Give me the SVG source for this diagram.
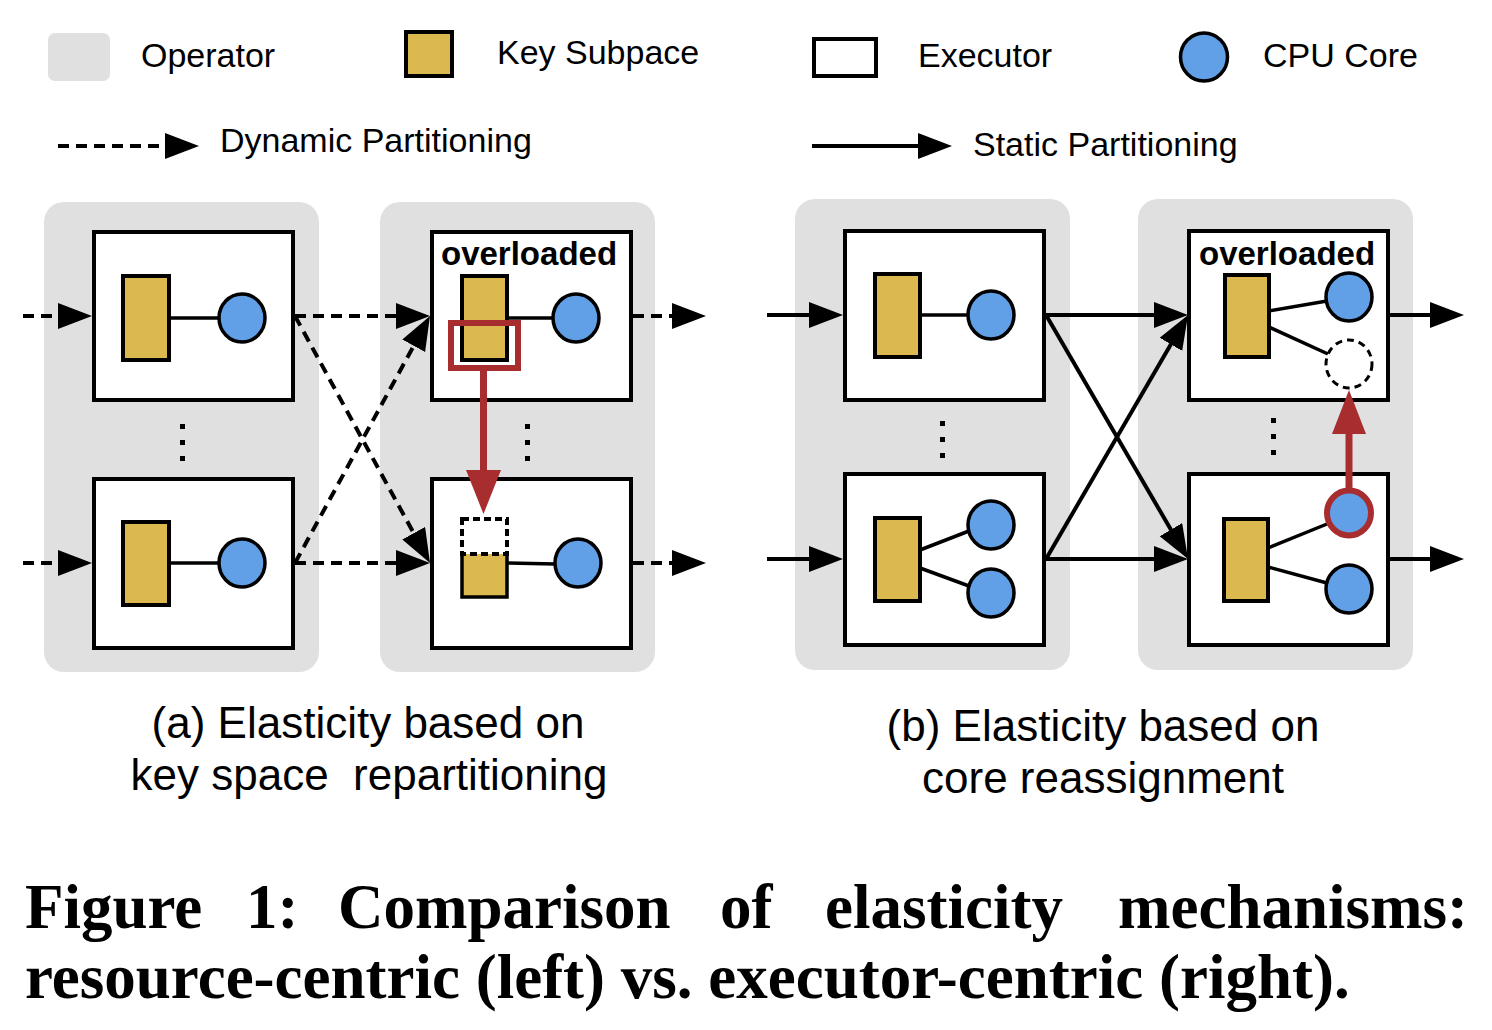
<svg xmlns="http://www.w3.org/2000/svg" width="1492" height="1030" viewBox="0 0 1492 1030">
<style>
.op{fill:#E0E0E0;}
.ex{fill:#FFFFFF;stroke:#000;stroke-width:4;}
.key{fill:#DBB94E;stroke:#000;stroke-width:4;}
.cpu{fill:#619FE6;stroke:#000;stroke-width:3.5;}
.lk{stroke:#000;stroke-width:3.5;fill:none;}
.dyn{stroke:#000;stroke-width:4;stroke-dasharray:11 7;fill:none;marker-end:url(#ah);}
.sta{stroke:#000;stroke-width:4;fill:none;marker-end:url(#ah);}
.lbl{font-family:"Liberation Sans",Arial,sans-serif;font-size:34px;fill:#000;}
.sub{font-family:"Liberation Sans",Arial,sans-serif;font-size:44px;fill:#000;text-anchor:middle;}
.ovl{font-family:"Liberation Sans",Arial,sans-serif;font-size:33px;font-weight:bold;fill:#000;}
.cap{font-family:"Liberation Serif","Times New Roman",serif;font-size:63px;font-weight:bold;fill:#000;}
.red{fill:#A82D2E;}
.dot{fill:#000;}
</style>
<defs>
<marker id="ah" markerUnits="userSpaceOnUse" markerWidth="36" markerHeight="28" refX="24" refY="13" orient="auto">
<path d="M0,0 L34,13 L0,26 z" fill="#000"/>
</marker>
</defs>

<g id="legend">
<rect x="48" y="33" width="62" height="48" rx="7" class="op"/>
<text x="141" y="67" class="lbl">Operator</text>
<rect x="406" y="32" width="46" height="44" class="key"/>
<text x="497" y="64" class="lbl">Key Subpace</text>
<rect x="814" y="39" width="62" height="37" class="ex"/>
<text x="918" y="67" class="lbl">Executor</text>
<ellipse cx="1204" cy="57" rx="23.5" ry="24" class="cpu"/>
<text x="1263" y="67" class="lbl">CPU Core</text>
<line x1="58" y1="146" x2="189" y2="146" class="dyn"/>
<text x="220" y="152" class="lbl">Dynamic Partitioning</text>
<line x1="812" y1="146" x2="942" y2="146" class="sta"/>
<text x="973" y="156" class="lbl">Static Partitioning</text>
</g>

<g id="operator-a1"><rect x="44" y="202" width="275" height="470" rx="20" class="op"/></g>
<g id="operator-a2"><rect x="380" y="202" width="275" height="470" rx="20" class="op"/></g>
<g id="operator-b1"><rect x="795" y="199" width="275" height="471" rx="20" class="op"/></g>
<g id="operator-b2"><rect x="1138" y="199" width="275" height="471" rx="20" class="op"/></g>

<g id="dots">
<rect x="180" y="424" width="5" height="5" class="dot"/>
<rect x="180" y="440" width="5" height="5" class="dot"/>
<rect x="180" y="456" width="5" height="5" class="dot"/>
<rect x="525" y="424" width="5" height="5" class="dot"/>
<rect x="525" y="440" width="5" height="5" class="dot"/>
<rect x="525" y="456" width="5" height="5" class="dot"/>
<rect x="940" y="421" width="5" height="5" class="dot"/>
<rect x="940" y="437" width="5" height="5" class="dot"/>
<rect x="940" y="453" width="5" height="5" class="dot"/>
<rect x="1271" y="418" width="5" height="5" class="dot"/>
<rect x="1271" y="434" width="5" height="5" class="dot"/>
<rect x="1271" y="450" width="5" height="5" class="dot"/>
</g>

<g id="exec-a1">
<rect x="94" y="232" width="199" height="168" class="ex"/>
<line x1="169" y1="318" x2="219" y2="318" class="lk"/>
<rect x="123" y="276" width="46" height="84" class="key"/>
<ellipse cx="242" cy="318" rx="23" ry="24" class="cpu"/>
</g>
<g id="exec-a2">
<rect x="94" y="479" width="199" height="169" class="ex"/>
<line x1="169" y1="563" x2="219" y2="563" class="lk"/>
<rect x="123" y="522" width="46" height="83" class="key"/>
<ellipse cx="242" cy="563" rx="23" ry="24" class="cpu"/>
</g>
<g id="exec-a3">
<rect x="432" y="232" width="199" height="168" class="ex"/>
<text x="441" y="265" class="ovl">overloaded</text>
<line x1="507" y1="318" x2="553" y2="318" class="lk"/>
<rect x="462" y="276" width="45" height="84" class="key"/>
<ellipse cx="576" cy="318" rx="23" ry="24" class="cpu"/>
</g>
<g id="exec-a4">
<rect x="432" y="479" width="199" height="169" class="ex"/>
<line x1="507" y1="563" x2="555" y2="564" class="lk"/>
<rect x="462" y="553" width="45" height="44" fill="#DBB94E"/>
<path d="M462,553 V597 H507 V553" class="lk" stroke-width="4"/>
<rect x="462" y="519" width="45" height="35" fill="#FFFFFF" stroke="#000" stroke-width="4" stroke-dasharray="7 4"/>
<ellipse cx="578" cy="563" rx="23" ry="24" class="cpu"/>
</g>

<g id="exec-b1">
<rect x="845" y="231" width="199" height="169" class="ex"/>
<line x1="920" y1="315" x2="968" y2="315" class="lk"/>
<rect x="875" y="274" width="45" height="83" class="key"/>
<ellipse cx="991" cy="315" rx="23" ry="24" class="cpu"/>
</g>
<g id="exec-b2">
<rect x="845" y="474" width="199" height="171" class="ex"/>
<line x1="920" y1="550" x2="969" y2="531" class="lk"/>
<line x1="920" y1="568" x2="969" y2="586" class="lk"/>
<rect x="875" y="518" width="45" height="83" class="key"/>
<ellipse cx="991" cy="525" rx="23" ry="24" class="cpu"/>
<ellipse cx="991" cy="593" rx="23" ry="24" class="cpu"/>
</g>
<g id="exec-b3">
<rect x="1189" y="231" width="199" height="169" class="ex"/>
<text x="1199" y="265" class="ovl">overloaded</text>
<line x1="1269" y1="311" x2="1327" y2="301" class="lk"/>
<line x1="1269" y1="327" x2="1328" y2="354" class="lk"/>
<rect x="1225" y="275" width="44" height="82" class="key"/>
<ellipse cx="1349" cy="297" rx="23" ry="24" class="cpu"/>
<ellipse cx="1349" cy="364" rx="23" ry="24" fill="#FFFFFF" stroke="#000" stroke-width="3" stroke-dasharray="7 5"/>
</g>
<g id="exec-b4">
<rect x="1189" y="474" width="199" height="171" class="ex"/>
<line x1="1268" y1="548" x2="1327" y2="524" class="lk"/>
<line x1="1268" y1="567" x2="1327" y2="583" class="lk"/>
<rect x="1224" y="519" width="44" height="82" class="key"/>
<ellipse cx="1349" cy="589" rx="23" ry="24" class="cpu"/>
<ellipse cx="1349" cy="513" rx="22" ry="22.5" fill="#619FE6" stroke="#A82D2E" stroke-width="6"/>
</g>

<g id="connectors">
<line x1="23" y1="316" x2="82" y2="316" class="dyn"/>
<line x1="23" y1="563" x2="82" y2="563" class="dyn"/>
<line x1="295" y1="316" x2="420" y2="316" class="dyn"/>
<line x1="295" y1="563" x2="420" y2="563" class="dyn"/>
<line x1="295" y1="316" x2="425.2" y2="554.2" class="dyn"/>
<line x1="295" y1="563" x2="425.2" y2="324.8" class="dyn"/>
<line x1="633" y1="316" x2="696" y2="316" class="dyn"/>
<line x1="633" y1="563" x2="696" y2="563" class="dyn"/>

<line x1="767" y1="315" x2="833" y2="315" class="sta"/>
<line x1="767" y1="559" x2="833" y2="559" class="sta"/>
<line x1="1046" y1="315" x2="1178" y2="315" class="sta"/>
<line x1="1046" y1="559" x2="1178" y2="559" class="sta"/>
<line x1="1046" y1="315" x2="1183" y2="550.4" class="sta"/>
<line x1="1046" y1="559" x2="1183" y2="323.6" class="sta"/>
<line x1="1390" y1="315" x2="1454" y2="315" class="sta"/>
<line x1="1390" y1="559" x2="1454" y2="559" class="sta"/>

<rect x="451" y="323" width="67" height="45" fill="none" stroke="#A82D2E" stroke-width="6"/>
<rect x="480" y="370" width="7" height="102" class="red"/>
<polygon points="466,470 501,470 483.5,514" class="red"/>
<rect x="1345.5" y="432" width="7" height="59" class="red"/>
<polygon points="1332,434 1366,434 1349,390" class="red"/>
</g>

<g id="captions">
<text x="368" y="738" class="sub">(a) Elasticity based on</text>
<text x="369" y="790" class="sub" xml:space="preserve">key space  repartitioning</text>
<text x="1103" y="741" class="sub">(b) Elasticity based on</text>
<text x="1103" y="793" class="sub">core reassignment</text>
<text x="25" y="928" class="cap">Figure</text>
<text x="246" y="928" class="cap">1:</text>
<text x="338" y="928" class="cap">Comparison</text>
<text x="720" y="928" class="cap">of</text>
<text x="825" y="928" class="cap">elasticity</text>
<text x="1118" y="928" class="cap">mechanisms:</text>
<text x="25" y="998" class="cap">resource-centric (left) vs. executor-centric (right).</text>
</g>
</svg>
